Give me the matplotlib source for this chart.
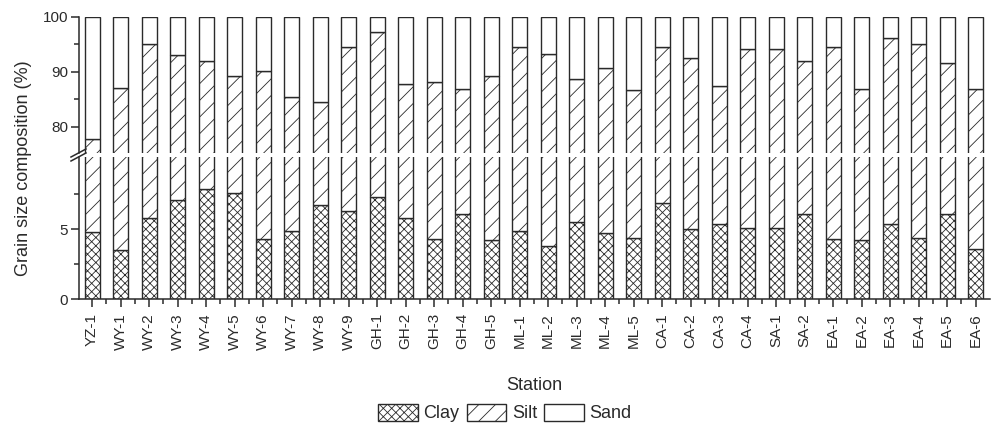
import numpy as np
import matplotlib
matplotlib.use("Agg")
import matplotlib.pyplot as plt
from matplotlib.lines import Line2D
from matplotlib.patches import Patch

plt.rcParams['font.family'] = ['Liberation Sans', 'DejaVu Sans']
plt.rcParams['hatch.linewidth'] = 0.6
plt.rcParams['hatch.color'] = '#333333'

stations = ['YZ-1',
            'WY-1', 'WY-2', 'WY-3', 'WY-4', 'WY-5', 'WY-6', 'WY-7', 'WY-8', 'WY-9',
            'GH-1', 'GH-2', 'GH-3', 'GH-4', 'GH-5',
            'ML-1', 'ML-2', 'ML-3', 'ML-4', 'ML-5',
            'CA-1', 'CA-2', 'CA-3', 'CA-4',
            'SA-1', 'SA-2',
            'EA-1', 'EA-2', 'EA-3', 'EA-4', 'EA-5', 'EA-6']

# grain size fractions (%)
clay = [4.8, 3.5, 5.8, 7.1, 7.9, 7.6, 4.3, 4.9, 6.7, 6.3,
        7.3, 5.8, 4.3, 6.1, 4.2,
        4.9, 3.8, 5.5, 4.7, 4.4,
        6.9, 5.0, 5.4, 5.1,
        5.1, 6.1,
        4.3, 4.2, 5.4, 4.4, 6.1, 3.6]
silt = [72.9, 83.5, 89.2, 85.9, 84.1, 81.7, 85.8, 80.4, 77.8, 88.1,
        90.0, 82.0, 83.8, 80.7, 85.0,
        89.5, 89.5, 83.2, 86.0, 82.3,
        87.5, 87.5, 81.9, 89.0,
        89.0, 85.8,
        90.1, 82.7, 90.7, 90.6, 85.4, 83.3]
sand = [22.3, 13.0, 5.0, 7.0, 8.0, 10.7, 9.9, 14.7, 15.5, 5.6,
        2.7, 12.2, 11.9, 13.2, 10.8,
        5.6, 6.7, 11.3, 9.3, 13.3,
        5.6, 7.5, 12.7, 5.9,
        5.9, 8.1,
        5.6, 13.1, 3.9, 5.0, 8.5, 13.1]

ink = '#2a2a2a'
W, H = 993, 429
fig = plt.figure(figsize=(W / 100, H / 100), dpi=100)

left, right = 79, 990
ax_top = fig.add_axes([left / W, 1 - 153 / H, (right - left) / W, (153 - 16.7) / H])
ax_bot = fig.add_axes([left / W, 1 - 299.3 / H, (right - left) / W, (299.3 - 157) / H])

x = np.arange(len(stations))
clay = np.array(clay)
silt = np.array(silt)
sand = np.array(sand)
bw = 0.52

for ax in (ax_top, ax_bot):
    ax.bar(x, clay, bw, color='white', edgecolor=ink, hatch='xxxx', linewidth=1.0)
    ax.bar(x, silt, bw, bottom=clay, color='white', edgecolor=ink, hatch='//', linewidth=1.0)
    ax.bar(x, sand, bw, bottom=clay + silt, color='white', edgecolor=ink, linewidth=1.0)
    ax.set_xlim(-0.46, len(stations) - 0.5)
    for s in ('top', 'right'):
        ax.spines[s].set_visible(False)
    ax.spines['left'].set_color(ink)
    ax.spines['left'].set_linewidth(1.1)
    ax.tick_params(axis='y', which='major', direction='out', length=6, width=1.1,
                   colors=ink, labelsize=11, pad=2)
    ax.tick_params(axis='y', which='minor', direction='out', length=3.5, width=1.1, colors=ink)

ax_top.set_ylim(75.2, 100)
ax_top.set_yticks([80, 90, 100])
ax_top.set_yticks([85, 95], minor=True)
ax_top.spines['bottom'].set_visible(False)
ax_top.set_xticks([])

ax_bot.set_ylim(0, 10.15)
ax_bot.set_yticks([0, 5])
ax_bot.set_yticks([2.5, 7.5], minor=True)
ax_bot.spines['bottom'].set_color(ink)
ax_bot.spines['bottom'].set_linewidth(1.1)
ax_bot.set_xticks(x)
ax_bot.set_xticklabels(stations, rotation=90, fontsize=11, color=ink)
ax_bot.set_xticks(x[:-1] + 0.5, minor=True)
ax_bot.tick_params(axis='x', which='major', direction='out', length=6, width=1.1, colors=ink, pad=4)
ax_bot.tick_params(axis='x', which='minor', direction='out', length=3.5, width=1.1, colors=ink)

# break marks on the y axis
for yb in (153, 157):
    fig.add_artist(Line2D([(left - 8) / W, (left + 7) / W],
                          [1 - (yb + 4) / H, 1 - (yb - 4) / H],
                          transform=fig.transFigure, color=ink, linewidth=1.1))

fig.text(24 / W, 1 - 168 / H, 'Grain size composition (%)', rotation=90,
         ha='center', va='center', fontsize=13, color=ink)
fig.text(534 / W, 1 - 385 / H, 'Station', ha='center', va='center', fontsize=13, color=ink)

handles = [Patch(facecolor='white', edgecolor=ink, hatch='xxxx', label='Clay'),
           Patch(facecolor='white', edgecolor=ink, hatch='//', label='Silt'),
           Patch(facecolor='white', edgecolor=ink, label='Sand')]
fig.legend(handles=handles, loc='center', bbox_to_anchor=(505 / W, 1 - 413 / H),
           ncol=3, frameon=False, fontsize=13, handlelength=2.2, handleheight=1.1,
           handletextpad=0.3, columnspacing=0.4, labelcolor=ink)

fig.savefig('out.png', dpi=100)
